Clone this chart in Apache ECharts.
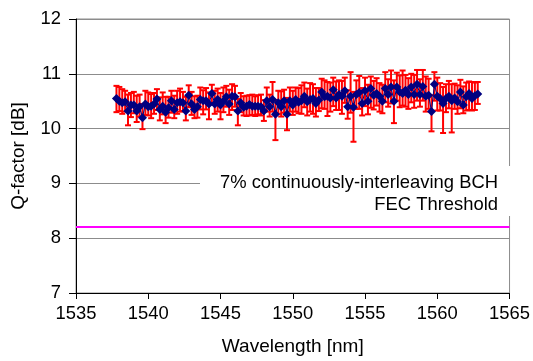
<!DOCTYPE html>
<html>
<head>
<meta charset="utf-8">
<script src="https://cdn.jsdelivr.net/npm/echarts@6/dist/echarts.min.js"></script>
<style>
  html, body { margin: 0; padding: 0; background: #fff; }
  #chart { width: 533px; height: 361px; }
</style>
</head>
<body>
<div id="chart"></div>
<script>
// Measured Q-factor per channel wavelength, with upper/lower spread for error bars
const wavelength = [
  1537.8,1538.0,1538.2,1538.4,1538.6,1538.8,1539.0,1539.2,1539.4,1539.6,1539.8,1540.0,1540.2,1540.4,1540.6,
  1540.8,1541.0,1541.2,1541.4,1541.6,1541.8,1542.0,1542.2,1542.4,1542.6,1542.8,1543.0,1543.2,1543.4,1543.6,
  1543.8,1544.0,1544.2,1544.4,1544.6,1544.8,1545.0,1545.2,1545.4,1545.6,1545.8,
  1546.0,1546.2,1546.4,1546.6,1546.8,1547.0,1547.2,1547.4,1547.6,1547.8,1548.0,1548.2,1548.4,1548.6,1548.8,
  1549.0,1549.2,1549.4,1549.6,1549.8,1550.0,1550.2,1550.4,1550.6,1550.8,
  1551.0,1551.2,1551.4,1551.6,1551.8,1552.0,1552.2,1552.4,1552.6,1552.8,1553.0,1553.2,1553.4,1553.6,1553.8,
  1554.0,1554.2,1554.4,1554.6,1554.8,1555.0,1555.2,1555.4,1555.6,1555.8,1556.0,1556.2,
  1556.4,1556.6,1556.8,1557.0,1557.2,1557.4,1557.6,1557.8,1558.0,1558.2,1558.4,1558.6,1558.8,1559.0,1559.2,
  1559.4,1559.6,1559.8,1560.0,1560.2,1560.4,1560.6,1560.8,1561.0,1561.2,
  1561.4,1561.6,1561.8,1562.0,1562.2,1562.4,1562.6,1562.8
];

const qFactor = [
  10.55,10.50,10.47,10.49,10.32,10.43,10.43,10.32,10.40,10.20,10.45,10.40,10.41,10.45,10.54,
  10.35,10.41,10.30,10.38,10.51,10.35,10.47,10.49,10.47,10.32,10.61,10.45,10.35,10.40,10.53,
  10.51,10.51,10.45,10.64,10.45,10.53,10.43,10.50,10.58,10.45,10.59,
  10.58,10.32,10.47,10.39,10.41,10.44,10.41,10.41,10.41,10.40,10.32,10.51,10.40,10.53,10.26,
  10.47,10.40,10.51,10.26,10.51,10.43,10.53,10.48,10.51,10.59,
  10.49,10.53,10.55,10.46,10.52,10.67,10.58,10.59,10.56,10.71,10.56,10.62,10.59,10.69,10.40,
  10.59,10.39,10.62,10.66,10.46,10.69,10.50,10.73,10.61,10.64,10.59,10.50,
  10.73,10.62,10.76,10.50,10.76,10.67,10.64,10.70,10.62,10.76,10.62,10.81,10.62,10.77,10.59,
  10.61,10.31,10.81,10.59,10.55,10.46,10.55,10.59,10.51,10.56,
  10.49,10.67,10.43,10.58,10.64,10.55,10.60,10.63
];

// Distance from each point up to the top of its error bar [dB]
const errUpper = [
  0.23,0.26,0.25,0.20,0.30,0.22,0.24,0.28,0.22,0.25,0.24,0.26,0.22,0.20,0.18,
  0.22,0.25,0.28,0.20,0.18,0.25,0.22,0.24,0.20,0.26,0.18,0.22,0.24,0.20,0.22,
  0.19,0.23,0.21,0.16,0.24,0.20,0.22,0.25,0.20,0.26,0.22,
  0.20,0.22,0.18,0.20,0.19,0.17,0.21,0.18,0.20,0.22,0.20,0.24,0.22,0.32,0.26,
  0.22,0.28,0.20,0.30,0.24,0.26,0.22,0.26,0.28,0.25,
  0.24,0.30,0.26,0.28,0.22,0.24,0.30,0.26,0.28,0.22,0.30,0.26,0.28,0.24,0.30,
  0.44,0.28,0.26,0.30,0.28,0.24,0.30,0.22,0.26,0.28,0.24,0.30,
  0.30,0.28,0.30,0.38,0.26,0.30,0.42,0.28,0.30,0.24,0.36,0.26,0.28,0.30,0.36,
  0.30,0.30,0.22,0.34,0.28,0.30,0.26,0.28,0.30,0.26,
  0.30,0.22,0.34,0.26,0.22,0.30,0.24,0.22
];

// Distance from each point down to the bottom of its error bar [dB]
const errLower = [
  0.25,0.18,0.20,0.18,0.26,0.22,0.15,0.20,0.18,0.21,0.20,0.16,0.22,0.18,0.20,
  0.20,0.15,0.20,0.18,0.22,0.16,0.20,0.18,0.15,0.17,0.22,0.20,0.16,0.20,0.18,
  0.25,0.16,0.28,0.20,0.18,0.22,0.26,0.20,0.18,0.20,0.25,
  0.18,0.26,0.17,0.15,0.18,0.20,0.16,0.18,0.15,0.16,0.18,0.20,0.18,0.22,0.47,
  0.20,0.18,0.22,0.29,0.20,0.18,0.22,0.20,0.24,0.20,
  0.25,0.22,0.28,0.24,0.20,0.30,0.22,0.36,0.25,0.30,0.22,0.28,0.32,0.22,0.22,
  0.30,0.63,0.26,0.30,0.22,0.28,0.24,0.35,0.26,0.22,0.28,0.22,
  0.25,0.22,0.30,0.40,0.25,0.28,0.22,0.30,0.26,0.28,0.24,0.30,0.22,0.26,0.28,
  0.25,0.36,0.30,0.26,0.22,0.54,0.25,0.22,0.58,0.20,
  0.22,0.30,0.15,0.25,0.30,0.22,0.26,0.18
];

const fecThreshold = 8.2;
const thresholdLabel = ['7% continuously-interleaving BCH', 'FEC Threshold'];

const xTicks = { min: 1535, max: 1565, step: 5 };
const yTicks = { min: 7, max: 12, step: 1 };

const FONT = '"Liberation Sans", Arial, Helvetica, sans-serif';

const points = wavelength.map((w, i) => [w, qFactor[i]]);
const bars = wavelength.map((w, i) => [w, qFactor[i] - errLower[i], qFactor[i] + errUpper[i]]);

const chart = echarts.init(document.getElementById('chart'), null, { renderer: 'canvas' });

chart.setOption({
  animation: false,
  backgroundColor: '#ffffff',
  grid: {
    left: 76, right: 22, top: 19, bottom: 68,
    show: true, borderColor: '#8c8c8c', borderWidth: 1, backgroundColor: 'transparent'
  },
  xAxis: {
    type: 'value',
    min: xTicks.min, max: xTicks.max, interval: xTicks.step,
    name: 'Wavelength [nm]',
    nameLocation: 'middle',
    nameGap: 44,
    nameTextStyle: { fontFamily: FONT, fontSize: 19, color: '#000' },
    axisLine: { show: true, onZero: false, lineStyle: { color: '#000', width: 1 } },
    axisTick: { show: true, inside: false, length: 6, lineStyle: { color: '#000' } },
    axisLabel: {
      fontFamily: FONT, fontSize: 18.4, color: '#000', margin: 12,
      formatter: v => String(v)
    },
    splitLine: { show: false }
  },
  yAxis: {
    type: 'value',
    min: yTicks.min, max: yTicks.max, interval: yTicks.step,
    name: 'Q-factor [dB]',
    nameLocation: 'middle',
    nameGap: 48,
    nameTextStyle: { fontFamily: FONT, fontSize: 19, color: '#000' },
    axisLine: { show: true, lineStyle: { color: '#000', width: 1 } },
    axisTick: { show: true, inside: false, length: 7, lineStyle: { color: '#000' } },
    axisLabel: { fontFamily: FONT, fontSize: 18.4, color: '#000', margin: 15 },
    splitLine: { show: true, lineStyle: { color: '#8c8c8c', width: 1 } }
  },
  series: [
    {
      // FEC threshold line
      type: 'line',
      data: [],
      silent: true,
      markLine: {
        silent: true,
        symbol: ['none', 'none'],
        label: { show: false },
        lineStyle: { color: '#ff00ff', width: 2, type: 'solid' },
        data: [{ yAxis: fecThreshold }]
      }
    },
    {
      // Error bars with caps
      type: 'custom',
      data: bars,
      z: 3,
      renderItem: function (params, api) {
        const x = api.value(0);
        const lo = api.coord([x, api.value(1)]);
        const hi = api.coord([x, api.value(2)]);
        const cap = 3;
        const style = { stroke: '#ff0000', lineWidth: 2 };
        return {
          type: 'group',
          children: [
            { type: 'line', shape: { x1: hi[0], y1: hi[1], x2: lo[0], y2: lo[1] }, style: style },
            { type: 'line', shape: { x1: hi[0] - cap, y1: hi[1], x2: hi[0] + cap, y2: hi[1] }, style: style },
            { type: 'line', shape: { x1: lo[0] - cap, y1: lo[1], x2: lo[0] + cap, y2: lo[1] }, style: style }
          ]
        };
      }
    },
    {
      // Q-factor points
      type: 'line',
      data: points,
      z: 4,
      symbol: 'diamond',
      symbolSize: 9,
      showAllSymbol: true,
      lineStyle: { color: '#000080', width: 1 },
      itemStyle: { color: '#000080', borderWidth: 0 }
    }
  ],
  graphic: [
    {
      type: 'rect',
      z: 100,
      shape: { x: 200, y: 166, width: 315, height: 50 },
      style: { fill: '#ffffff' }
    },
    {
      type: 'text',
      z: 101,
      x: 498, y: 183,
      style: {
        text: thresholdLabel[0], fill: '#000', font: '18.4px ' + FONT,
        align: 'right', verticalAlign: 'middle'
      }
    },
    {
      type: 'text',
      z: 101,
      x: 498, y: 205,
      style: {
        text: thresholdLabel[1], fill: '#000', font: '18.4px ' + FONT,
        align: 'right', verticalAlign: 'middle'
      }
    }
  ]
});
</script>
</body>
</html>
